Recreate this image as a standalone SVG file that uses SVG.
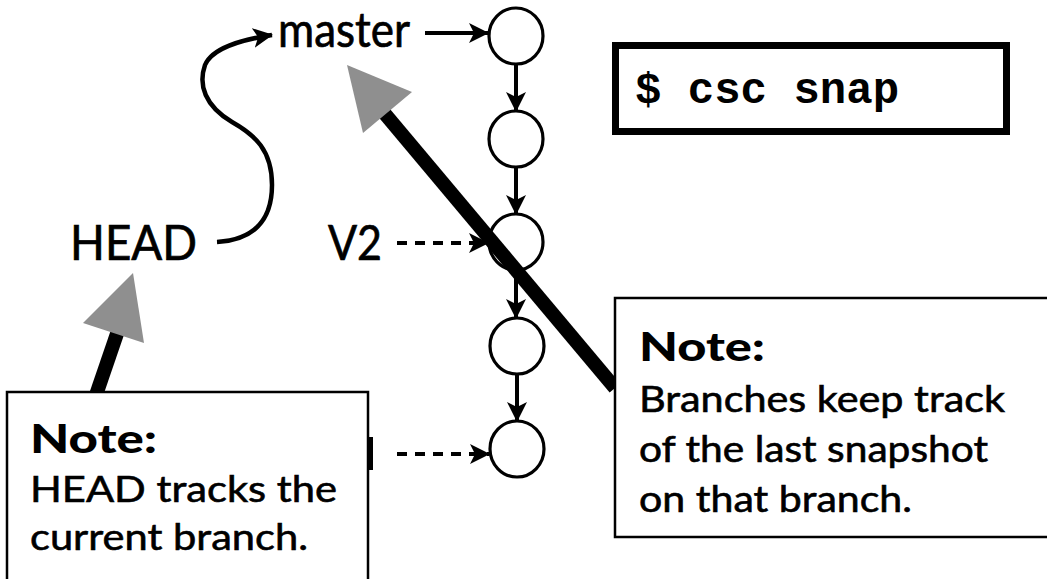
<svg xmlns="http://www.w3.org/2000/svg" width="1047" height="579" viewBox="0 0 1047 579">
<style>
.lbl{font-family:Lato,"Open Sans","DejaVu Sans",sans-serif;font-size:49px;fill:#000;stroke:#000;stroke-width:0.7}
.nb{font-family:Lato,"DejaVu Sans",sans-serif;font-weight:900;font-size:40px;fill:#000}
.nt{font-family:Lato,"Open Sans","DejaVu Sans",sans-serif;font-size:37px;fill:#000;stroke:#000;stroke-width:0.6}
.cmd{font-family:"Liberation Mono","Courier New",monospace;font-weight:bold;font-size:44px;fill:#000}
.c{fill:#fff;stroke:#000;stroke-width:3.2}
.ar{fill:none;stroke:#000;stroke-width:4}
.cv{fill:none;stroke:#000;stroke-width:4.5}
.da{fill:none;stroke:#000;stroke-width:4;stroke-dasharray:10 8}
.box{fill:#fff;stroke:#000;stroke-width:2.5}
.thick{stroke:#000;stroke-width:14;fill:none}
.gray{fill:#8f8f8f}
</style>
<defs>
<marker id="ah" markerWidth="20" markerHeight="22" refX="19" refY="11" orient="auto" markerUnits="userSpaceOnUse">
<path d="M0,1 L20,11 L0,21 L5,11 Z" fill="#000"/>
</marker>
</defs>
<g id="connectors">
<path class="cv" d="M217,242 C252,240 272,222 272,185 C272,150 255,135 232,122 C205,106 198,85 205,65 C212,48 240,40 272,35" marker-end="url(#ah)"/>
<line class="ar" x1="425" y1="33" x2="488" y2="33" marker-end="url(#ah)"/>
<line class="ar" x1="516" y1="64" x2="516" y2="111" marker-end="url(#ah)"/>
<line class="ar" x1="516" y1="167" x2="516" y2="214" marker-end="url(#ah)"/>
<line class="ar" x1="516" y1="270" x2="516" y2="318" marker-end="url(#ah)"/>
<line class="ar" x1="517" y1="374" x2="517" y2="421" marker-end="url(#ah)"/>
<line class="da" x1="397" y1="243" x2="488" y2="243" marker-end="url(#ah)"/>
<line class="da" x1="397" y1="454" x2="489" y2="454" marker-end="url(#ah)"/>
</g>
<g id="commit1"><ellipse class="c" cx="516" cy="36" rx="27" ry="28"/></g>
<g id="commit2"><ellipse class="c" cx="516" cy="139" rx="27" ry="28"/></g>
<g id="commit3"><ellipse class="c" cx="516" cy="242" rx="27" ry="28"/></g>
<g id="commit4"><ellipse class="c" cx="517" cy="346" rx="27" ry="28"/></g>
<g id="commit5"><ellipse class="c" cx="517" cy="449" rx="27" ry="28"/></g>
<g id="master"><text class="lbl" x="278" y="47" textLength="132" lengthAdjust="spacingAndGlyphs">master</text></g>
<g id="head"><text class="lbl" x="70" y="260" textLength="127" lengthAdjust="spacingAndGlyphs">HEAD</text></g>
<g id="v2"><text class="lbl" x="328" y="260" textLength="54" lengthAdjust="spacingAndGlyphs">V2</text></g>
<g id="cmd">
<rect x="615.5" y="45.5" width="391" height="86" fill="#fff" stroke="#000" stroke-width="7"/>
<text class="cmd" x="635" y="103">$ csc snap</text>
</g>
<g id="pointer-master">
<line class="thick" x1="615" y1="388" x2="380" y2="108"/>
<polygon class="gray" points="347,65 412,92 363,133"/>
</g>
<g id="pointer-head">
<line class="thick" x1="96" y1="395" x2="121" y2="322"/>
<polygon class="gray" points="133,273 83,323 144,343"/>
</g>
<g id="note-right">
<rect class="box" x="615" y="298" width="440" height="239"/>
<text class="nb" x="639" y="361" textLength="126" lengthAdjust="spacingAndGlyphs">Note:</text>
<text class="nt" x="639" y="412" textLength="366" lengthAdjust="spacingAndGlyphs">Branches keep track</text>
<text class="nt" x="639" y="462" textLength="349" lengthAdjust="spacingAndGlyphs">of the last snapshot</text>
<text class="nt" x="639" y="512" textLength="273" lengthAdjust="spacingAndGlyphs">on that branch.</text>
</g>
<g id="note-left">
<rect class="box" x="7" y="392" width="361" height="200"/>
<rect x="368" y="437" width="5" height="33" fill="#000"/>
<text class="nb" x="30" y="453" textLength="127" lengthAdjust="spacingAndGlyphs">Note:</text>
<text class="nt" x="30" y="502" textLength="307" lengthAdjust="spacingAndGlyphs">HEAD tracks the</text>
<text class="nt" x="30" y="550" textLength="278" lengthAdjust="spacingAndGlyphs">current branch.</text>
</g>
</svg>
